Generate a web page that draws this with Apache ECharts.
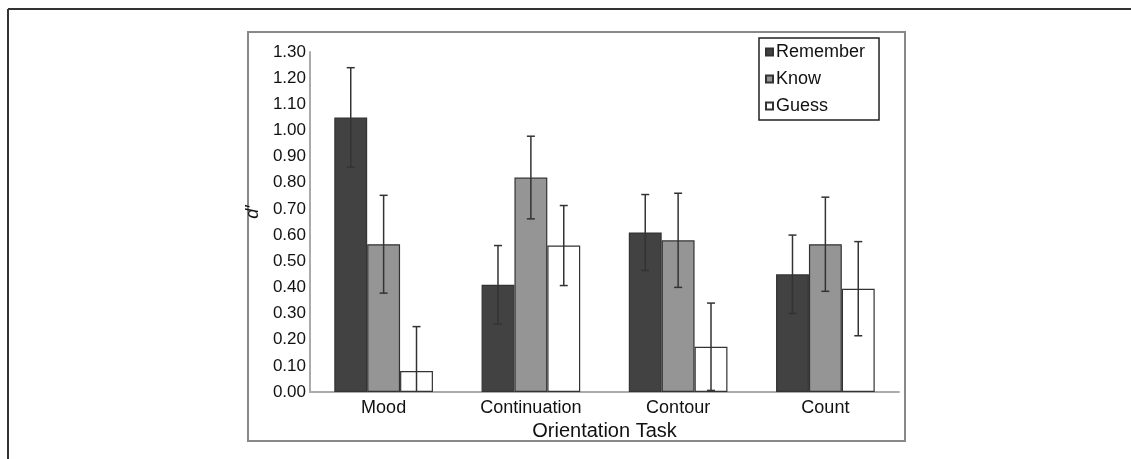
<!DOCTYPE html>
<html>
<head>
<meta charset="utf-8">
<script src="https://cdn.jsdelivr.net/npm/echarts@6/dist/echarts.min.js"></script>
<style>
html,body{margin:0;padding:0;background:#fff;}
#c{width:1131px;height:459px;}
</style>
</head>
<body>
<div id="c"></div>
<script>
const categories = ['Mood', 'Continuation', 'Contour', 'Count'];
const seriesNames = ['Remember', 'Know', 'Guess'];
const remember = [1.05, 0.41, 0.61, 0.45];
const rememberErr = [0.19, 0.15, 0.145, 0.15];
const know = [0.565, 0.82, 0.58, 0.565];
const knowErr = [0.187, 0.158, 0.18, 0.18];
const guess = [0.08, 0.56, 0.173, 0.395];
const guessErr = [0.17, 0.153, 0.167, 0.18];
const yTicks = ['0.00','0.10','0.20','0.30','0.40','0.50','0.60','0.70','0.80','0.90','1.00','1.10','1.20','1.30'];

const FONT = 'Liberation Sans, Arial, sans-serif';
const colors = ['#424242', '#959595', '#ffffff'];
const values = [remember, know, guess];
const errs = [rememberErr, knowErr, guessErr];
const CAT_GAP = 0.33;
const BAR_FRAC = (1 - CAT_GAP) / 3;

const chart = echarts.init(document.getElementById('c'), null, {renderer: 'canvas'});

function errSeries(idx) {
  const data = categories.map((c, i) => [i, values[idx][i], errs[idx][i]]);
  return {
    type: 'custom',
    name: seriesNames[idx] + ' err',
    z: 10,
    silent: true,
    data: data,
    encode: {x: 0, y: 1},
    renderItem: function (params, api) {
      const i = api.value(0);
      const v = api.value(1);
      const e = api.value(2);
      const bw = api.size([1, 0])[0] * BAR_FRAC;
      const center = api.coord([i, 0])[0] + (idx - 1) * bw;
      const hiV = v + e;
      let loV = v - e;
      const clipped = loV < 0;
      if (clipped) loV = 0;
      const yHi = api.coord([i, hiV])[1];
      const yLo = api.coord([i, loV])[1];
      const cap = 4;
      const st = {stroke: '#333', lineWidth: 1.5};
      const children = [
        {type: 'line', shape: {x1: center, y1: yHi, x2: center, y2: yLo}, style: st},
        {type: 'line', shape: {x1: center - cap, y1: yHi, x2: center + cap, y2: yHi}, style: st}
      ];
      if (!clipped) {
        children.push({type: 'line', shape: {x1: center - cap, y1: yLo, x2: center + cap, y2: yLo}, style: st});
      }
      return {type: 'group', children: children};
    }
  };
}

const barSeries = seriesNames.map((n, idx) => ({
  type: 'bar',
  name: n,
  data: values[idx],
  barGap: '0%',
  barCategoryGap: (CAT_GAP * 100) + '%',
  itemStyle: {color: colors[idx], borderColor: '#333', borderWidth: 1.2},
  emphasis: {disabled: true}
}));

const option = {
  animation: false,
  backgroundColor: '#fff',
  textStyle: {fontFamily: FONT},
  grid: {left: 310, right: 232, top: 52, bottom: 67, containLabel: false},
  legend: {
    orient: 'vertical',
    left: 759,
    top: 38,
    data: seriesNames,
    icon: 'rect',
    itemWidth: 7,
    itemHeight: 7,
    itemGap: 9,
    padding: [5, 14, 5, 6],
    borderColor: '#222',
    borderWidth: 1.5,
    textStyle: {fontFamily: FONT, fontSize: 18, color: '#111', padding: [0, 0, 0, -2], lineHeight: 18}
  },
  xAxis: {
    type: 'category',
    data: categories,
    name: 'Orientation Task',
    nameLocation: 'middle',
    nameGap: 25,
    nameTextStyle: {fontFamily: FONT, fontSize: 20, color: '#111'},
    axisLine: {lineStyle: {color: '#aaa', width: 2}},
    axisTick: {show: false},
    axisLabel: {fontFamily: FONT, fontSize: 18, color: '#111', margin: 7}
  },
  yAxis: {
    type: 'value',
    min: 0,
    max: 1.3,
    interval: 0.1,
    name: 'd′',
    nameLocation: 'middle',
    nameRotate: 90,
    nameGap: 39,
    nameTextStyle: {fontFamily: FONT, fontSize: 18, fontStyle: 'italic', color: '#111', padding: [0, 0, 0, 20]},
    axisLine: {show: true, lineStyle: {color: '#aaa', width: 2}},
    axisTick: {show: false},
    splitLine: {show: false},
    axisLabel: {
      fontFamily: FONT, fontSize: 17, color: '#111', margin: 4,
      formatter: function (v) { return yTicks[Math.round(v * 10)]; }
    }
  },
  graphic: [
    {type: 'line', shape: {x1: 8, y1: 9, x2: 1131, y2: 9}, style: {stroke: '#333', lineWidth: 2}},
    {type: 'line', shape: {x1: 8, y1: 9, x2: 8, y2: 459}, style: {stroke: '#333', lineWidth: 2}},
    {type: 'rect', shape: {x: 248, y: 32, width: 657, height: 409}, style: {fill: 'none', stroke: '#888', lineWidth: 2}, z: -1}
  ],
  series: barSeries.concat([errSeries(0), errSeries(1), errSeries(2)])
};
chart.setOption(option);
</script>
</body>
</html>
